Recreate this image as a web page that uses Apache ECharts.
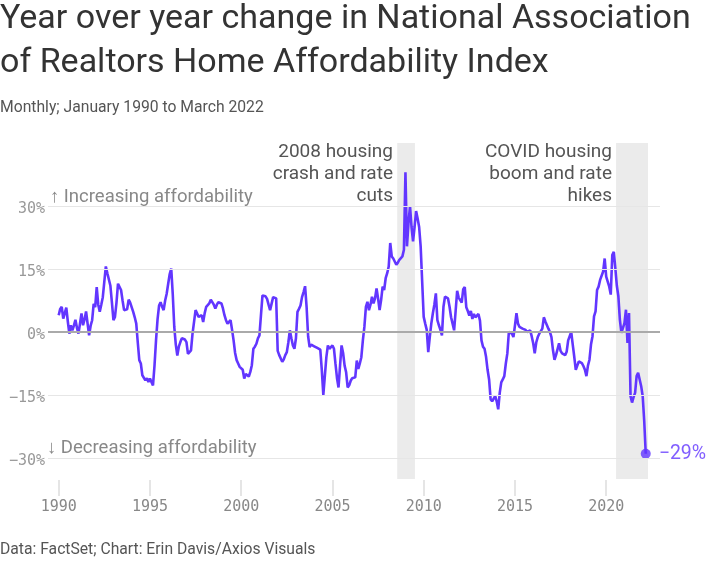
<!DOCTYPE html>
<html><head><meta charset="utf-8">
<script src="https://cdn.jsdelivr.net/npm/echarts@6/dist/echarts.min.js"></script>
<style>html,body{margin:0;padding:0;background:#fff}#c{width:724px;height:575px}</style>
</head><body><div id="c"></div>
<script>
const startYear = 1990;
// Monthly YoY change (%), Jan 1990 .. Mar 2022
const values = [
  4.0, 5.5, 6.0, 3.2, 4.5, 5.8, 2.5, -0.4, 1.6, 0.4, 1.5, 2.9,
  1.0, -0.4, 2.0, 4.4, 1.6, 3.0, 4.9, 2.0, -0.8, 1.5, 2.8, 6.7,
  5.9, 10.7, 6.5, 4.8, 6.5, 8.3, 12.0, 15.6, 14.0, 12.5, 11.0, 7.0,
  2.8, 3.6, 7.0, 11.5, 11.3, 10.0, 7.5, 5.2, 5.0, 5.4, 7.7, 7.0,
  6.8, 4.8, 3.5, 2.0, -2.5, -6.7, -7.5, -10.3, -10.5, -11.5, -11.0, -11.9,
  -11.1, -11.5, -12.7, -8.0, -2.0, 3.0, 6.3, 7.1, 6.0, 5.2, 7.5, 9.1,
  11.5, 13.8, 15.1, 9.0, 1.2, -3.0, -5.6, -3.5, -2.4, -1.5, -1.6, -1.8,
  -2.4, -5.2, -4.8, -4.4, -0.4, 0.0, 5.2, 5.3, 3.6, 3.8, 4.0, 2.4,
  4.5, 6.0, 6.3, 6.8, 7.7, 7.1, 6.5, 5.6, 6.5, 7.1, 7.5, 6.8,
  5.6, 4.0, 2.8, 2.0, 2.2, 2.8, 0.5, -2.0, -5.0, -6.7, -7.5, -8.3,
  -8.7, -9.0, -11.1, -10.0, -10.3, -10.6, -9.5, -7.9, -4.0, -3.5, -2.8, -1.5,
  -0.8, 4.0, 8.7, 8.3, 8.5, 7.9, 6.5, 5.2, 4.8, 8.3, 8.5, 8.0,
  -4.5, -5.5, -5.8, -7.1, -6.5, -5.5, -4.8, -2.5, 0.4, -1.5, -3.2, -4.0,
  -1.5, 4.8, 5.5, 6.3, 8.3, 9.5, 10.9, 6.0, -1.0, -3.6, -3.0, -2.8,
  -3.4, -3.6, -3.8, -4.0, -4.2, -9.0, -15.0, -10.5, -6.0, -3.2, -4.0, -4.4,
  -3.2, -4.0, -7.6, -11.0, -13.2, -8.0, -3.2, -5.0, -8.0, -9.6, -13.2, -12.7,
  -11.6, -11.0, -11.2, -10.8, -6.8, -8.8, -7.5, -6.0, -2.0, 1.2, 6.0, 7.2,
  5.2, 6.5, 8.4, 6.8, 8.0, 10.4, 8.0, 5.2, 7.6, 10.8, 10.0, 12.8,
  14.0, 15.6, 21.2, 18.0, 17.5, 17.2, 16.0, 16.5, 17.2, 17.5, 18.0, 19.6,
  38.0, 20.4, 26.0, 30.0, 25.0, 21.6, 25.0, 28.8, 27.0, 25.0, 20.4, 20.0,
  3.6, 2.0, 0.5, -4.8, -1.2, 2.0, 4.4, 6.5, 9.2, 2.8, 1.6, 0.5,
  -0.8, 6.0, 8.4, 8.2, 8.0, 6.0, 3.5, 2.0, 0.4, 5.0, 9.8, 8.2,
  8.5, 7.0, 10.2, 10.7, 5.9, 5.0, 3.9, 5.0, 3.1, 4.3, 3.5, 3.9,
  4.3, 2.7, -2.0, -3.5, -4.0, -5.9, -9.0, -11.3, -16.0, -16.5, -16.8, -15.2,
  -16.5, -18.4, -14.5, -12.0, -11.3, -10.5, -7.5, -5.1, 0.0, -0.2, -0.4, -1.2,
  1.5, 4.5, 2.0, 1.2, 0.8, 0.8, 0.5, 0.5, 0.0, 0.0, 0.4, -1.0,
  -2.7, -5.1, -2.5, -1.2, -0.4, 0.0, 0.8, 3.5, 2.5, 2.3, 0.8, 0.0,
  -1.2, -4.3, -6.6, -5.5, -5.1, -2.7, -4.5, -5.1, -5.5, -5.5, -4.7, -2.0,
  -1.0, 0.0, -3.0, -5.9, -9.0, -8.0, -7.0, -7.2, -7.4, -8.1, -9.0, -10.5,
  -8.0, -6.6, -3.0, -1.0, 3.7, 4.9, 10.0, 10.8, 12.4, 12.0, 14.4, 17.5,
  13.2, 12.0, 10.8, 8.9, 18.3, 19.1, 15.2, 11.0, 8.5, 2.9, -0.2, 0.2,
  2.1, 5.3, -2.6, 4.5, -15.3, -16.8, -15.5, -14.5, -10.5, -9.7, -11.3, -12.9,
  -15.3, -21.2, -29.0
];
const xTicks = [1990, 1995, 2000, 2005, 2010, 2015, 2020];
const yTicks = [-30, -15, 0, 15, 30];
const shadedPeriods = [[2008.55, 2009.52], [2020.54, 2022.29]];
const titleLines = ['Year over year change in National Association', 'of Realtors Home Affordability Index'];
const subtitle = 'Monthly; January 1990 to March 2022';
const source = 'Data: FactSet; Chart: Erin Davis/Axios Visuals';
const note2008 = ['2008 housing', 'crash and rate', 'cuts'];
const noteCovid = ['COVID housing', 'boom and rate', 'hikes'];
const upLabel = '\u2191 Increasing affordability';
const downLabel = '\u2193 Decreasing affordability';

const PURPLE = '#6236ff';
const Y_MIN = -35, Y_MAX = 45;
const X_MIN = 1989.414, X_MAX = 2022.948;
const points = values.map((v, i) => [startYear + i / 12, v]);
const last = points[points.length - 1];
const fmtPct = v => (v < 0 ? '\u2212' + Math.abs(v) : String(v)) + '%';

const chart = echarts.init(document.getElementById('c'), null, {renderer: 'canvas'});
const sans = 'Roboto, "Liberation Sans", sans-serif';
const mono = '"DejaVu Sans Mono", monospace';

function noteLines(lines, xRight, yTop) {
  return lines.map((t, i) => ({
    type: 'text', x: xRight, y: yTop + i * 22, z: 10,
    style: {text: t, font: '400 19px ' + sans, fill: '#555', align: 'right', verticalAlign: 'top'}
  }));
}

const option = {
  backgroundColor: '#fff',
  animation: false,
  grid: [
    {left: 48, right: 64, top: 143, bottom: 96, outerBoundsMode: 'none'},
    // thin strip just under the plot that carries the tick marks
    {left: 48, right: 64, top: 480, bottom: 79, outerBoundsMode: 'none'}
  ],
  xAxis: [{
    type: 'value', min: X_MIN, max: X_MAX, gridIndex: 0,
    axisLine: {show: false, onZero: false},
    splitLine: {show: false},
    axisTick: {show: false},
    axisLabel: {customValues: xTicks, margin: 21, color: '#888', fontFamily: mono, fontSize: 15, formatter: v => String(Math.round(v))}
  }, {
    type: 'value', min: X_MIN, max: X_MAX, gridIndex: 1,
    axisLine: {show: false, onZero: false}, axisTick: {show: false},
    axisLabel: {show: false},
    splitLine: {show: true, customValues: xTicks, showMinLine: false, showMaxLine: false,
      lineStyle: {color: '#dcdcdc', width: 1.5}}
  }],
  yAxis: [{
    type: 'value', min: Y_MIN, max: Y_MAX, gridIndex: 0,
    axisLine: {show: false}, axisTick: {show: false},
    splitLine: {show: false},
    axisLabel: {customValues: yTicks, margin: 3,
      formatter: v => '{v|' + fmtPct(v) + '}',
      rich: {v: {color: '#999', fontFamily: mono, fontSize: 15, padding: [7, 0, 0, 0]}}}
  }, {
    type: 'value', min: 0, max: 1, gridIndex: 1, show: false
  }],
  graphic: [
    {type: 'text', left: 0, top: 2, style: {text: titleLines[0], font: '400 34px ' + sans, fill: '#333'}},
    {type: 'text', left: 0, top: 46, style: {text: titleLines[1], font: '400 34px ' + sans, fill: '#333'}},
    {type: 'text', left: 0, top: 100, style: {text: subtitle, font: '400 15.7px ' + sans, fill: '#555'}},
    {type: 'text', left: 0, top: 542, style: {text: source, font: '400 15.7px ' + sans, fill: '#555'}},
    {type: 'text', left: 50, top: 188, z: 10, style: {text: upLabel, font: '400 18.5px ' + sans, fill: '#888'}},
    {type: 'text', left: 47, top: 439, z: 10, style: {text: downLabel, font: '400 18.5px ' + sans, fill: '#888'}}
  ].concat(noteLines(note2008, 393, 143), noteLines(noteCovid, 612, 143)),
  series: [
    {
      type: 'line', data: points, showSymbol: false, silent: true, z: 1,
      lineStyle: {opacity: 0},
      markArea: {silent: true, itemStyle: {color: '#ebebeb'},
        data: shadedPeriods.map(p => [{xAxis: p[0]}, {xAxis: p[1]}])},
      markLine: {silent: true, symbol: 'none', label: {show: false},
        data: yTicks.map(t => ({yAxis: t, lineStyle: t === 0 ? {color: '#aaaaaa', width: 2, type: 'solid'} : {color: '#e6e6e6', width: 1, type: 'solid'}}))}
    },
    {
      type: 'line', data: points, showSymbol: false, z: 3,
      lineStyle: {color: PURPLE, width: 2.6}, itemStyle: {color: PURPLE}
    },
    {
      type: 'scatter', data: [last], symbol: 'circle', symbolSize: 10, z: 4,
      itemStyle: {color: PURPLE},
      label: {show: true, position: 'right', distance: 8, formatter: p => fmtPct(Math.round(p.value[1])),
        color: PURPLE, fontFamily: sans, fontSize: 19.5}
    },
    {type: 'line', xAxisIndex: 1, yAxisIndex: 1, data: [], silent: true}
  ]
};
chart.setOption(option);
</script>
</body></html>
